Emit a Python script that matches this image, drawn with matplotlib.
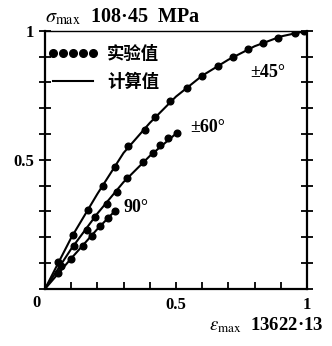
import numpy as np
import matplotlib.pyplot as plt
from matplotlib.lines import Line2D
from matplotlib.ticker import MultipleLocator

plt.rcParams['font.family'] = ['Liberation Serif', 'Noto Sans CJK SC', 'DejaVu Sans']
plt.rcParams['mathtext.fontset'] = 'stix'

# экспериментальные точки (нормированные eps, sigma)
x45 = [0.05, 0.107, 0.164, 0.221, 0.267, 0.317, 0.382, 0.420, 0.477, 0.542,
       0.599, 0.660, 0.718, 0.775, 0.832, 0.889, 0.954, 0.99]
y45 = [0.105, 0.209, 0.306, 0.399, 0.473, 0.553, 0.616, 0.667, 0.728, 0.779,
       0.825, 0.862, 0.897, 0.930, 0.953, 0.973, 0.993, 1.0]
x60 = [0.06, 0.11, 0.160, 0.191, 0.237, 0.275, 0.313, 0.374, 0.412, 0.439,
       0.469, 0.504]
y60 = [0.09, 0.165, 0.229, 0.280, 0.330, 0.375, 0.428, 0.490, 0.525, 0.556,
       0.583, 0.605]
x90 = [0.05, 0.10, 0.145, 0.180, 0.210, 0.240, 0.267]
y90 = [0.06, 0.115, 0.165, 0.205, 0.245, 0.276, 0.302]

# расчетные кривые
cx45 = [0, 0.1, 0.2, 0.3, 0.4, 0.5, 0.6, 0.7, 0.8, 0.9, 1.0]
cy45 = [0, 0.198, 0.368, 0.527, 0.643, 0.745, 0.826, 0.888, 0.940, 0.978, 1.0]
cx60 = [0, 0.1, 0.2, 0.3, 0.4, 0.504]
cy60 = [0, 0.155, 0.292, 0.414, 0.515, 0.605]
cx90 = [0, 0.1, 0.2, 0.267]
cy90 = [0, 0.118, 0.232, 0.302]

fig = plt.figure(figsize=(3.32, 3.46), dpi=100)
ax = fig.add_axes([0.1355, 0.165, 0.789, 0.746])

for cx, cy in [(cx45, cy45), (cx60, cy60), (cx90, cy90)]:
    ax.plot(cx, cy, color='black', lw=1.5)
for x, y in [(x45, y45), (x60, y60), (x90, y90)]:
    ax.plot(x, y, 'o', color='black', ms=4.8, ls='none')

ax.text(0.85, 0.837, '±45°', fontsize=13, fontweight='bold', ha='center', va='center')
ax.text(0.553, 0.624, '±60°', fontsize=13, fontweight='bold', ha='left', va='center')
ax.text(0.30, 0.314, '90°', fontsize=13, fontweight='bold', ha='left', va='center')

ax.set_xlim(0, 1)
ax.set_ylim(0, 1)
ax.set_xticks([0.5, 1])
ax.set_xticklabels(['0.5', '1'])
ax.set_yticks([0.5, 1])
ax.set_yticklabels(['0.5', '1'])
ax.xaxis.set_minor_locator(MultipleLocator(0.1))
ax.yaxis.set_minor_locator(MultipleLocator(0.1))
ax.tick_params(axis='both', which='both', labelsize=12, width=1.3, color='black')
ax.tick_params(axis='x', which='both', direction='in', length=5, top=False, pad=6)
ax.tick_params(axis='y', which='both', direction='inout', length=8, right=True, pad=4)
for lab in ax.get_xticklabels() + ax.get_yticklabels():
    lab.set_fontweight('bold')
for s in ax.spines.values():
    s.set_linewidth(1.6)
ax.spines['top'].set_linewidth(1.0)
ax.text(-0.015, -0.025, '0', transform=ax.transAxes, fontsize=12, fontweight='bold',
        ha='right', va='top')

handles = [Line2D([], [], color='black', marker='o', ms=5.5, ls='none'),
           Line2D([], [], color='black', lw=1.5)]
leg = ax.legend(handles, ['实验值', '计算值'], loc='upper left', frameon=False,
                bbox_to_anchor=(-0.015, 0.97), numpoints=5, handlelength=2.9,
                handletextpad=0.5, labelspacing=0.55, borderaxespad=0.0,
                prop={'family': 'Noto Sans CJK SC', 'size': 12.5, 'weight': 'bold'})

fig.text(0.1355, 0.952, r'$\sigma_{\rm max}$  108·45  MPa', fontsize=14.5, fontweight='bold',
         ha='left', va='center')
fig.text(0.973, 0.06, r'$\varepsilon_{\rm max}$  13622·13', fontsize=13.5, fontweight='bold',
         ha='right', va='center')

fig.savefig('out.png', dpi=100)
